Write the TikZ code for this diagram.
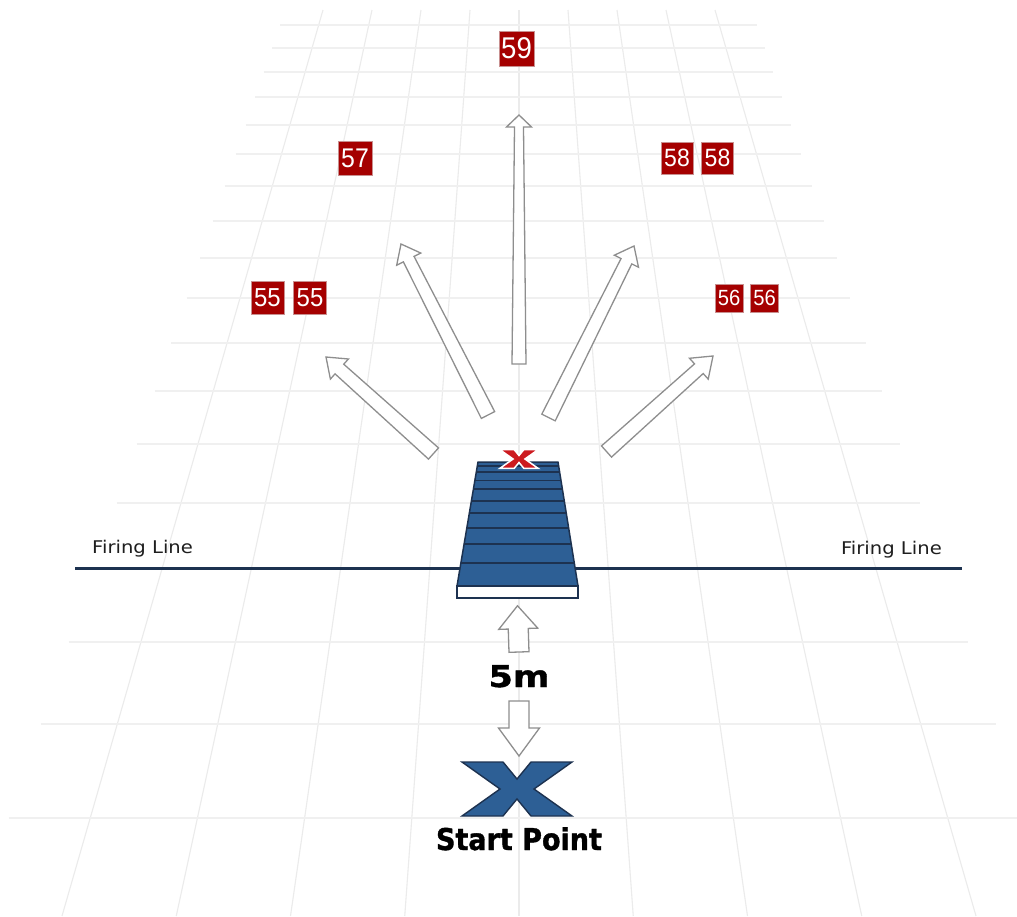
\documentclass[tikz,border=0pt]{standalone}
\usepackage{fontspec}
\setmainfont{Liberation Sans}
\newfontfamily\labelfont{DejaVu Sans}[FakeStretch=1.12]
\newfontfamily\numfont{Liberation Sans}[FakeStretch=0.92]
\newfontfamily\fivefont{DejaVu Sans}[FakeStretch=1.17, FakeBold=1.2]
\newfontfamily\startfont{DejaVu Sans}[FakeStretch=0.9, FakeBold=1.2]
\usetikzlibrary{calc}
\definecolor{gridc}{HTML}{EBEBEB}
\definecolor{gridhc}{HTML}{F0F0F0}
\definecolor{navy}{HTML}{1D3250}
\definecolor{platblue}{HTML}{2D5F95}
\definecolor{boxred}{HTML}{A50000}
\definecolor{boxedge}{HTML}{C89090}
\definecolor{xred}{HTML}{CC1A1F}
\definecolor{arrowgray}{HTML}{8E8E8E}
\definecolor{textgray}{HTML}{1E1E1E}
% tail, tip, tail half width, base half width, head half width, head length
\newcommand\hollowarrow[6]{%
  \coordinate (#1-hb) at ($(#2)!#6!(#1)$);
  \draw[blockarrow] ($(#1)!#3!90:(#2)$) -- ($(#1-hb)!#4!90:(#2)$)
    -- ($(#1-hb)!#5!90:(#2)$) -- (#2) -- ($(#1-hb)!#5!-90:(#2)$)
    -- ($(#1-hb)!#4!-90:(#2)$) -- ($(#1)!#3!-90:(#2)$) -- cycle;}
\tikzset{
  gridv/.style={draw=gridc, line width=1.1pt},
  gridh/.style={draw=gridhc, line width=1.8pt},
  firing/.style={draw=navy, line width=3pt},
  platform/.style={draw=navy, fill=platblue, line width=1.5pt, line join=round},
  stripe/.style={draw=navy, line width=1.7pt},
  basebox/.style={draw=navy, fill=white, line width=1.5pt, inner sep=0pt, minimum width=121pt, minimum height=12pt},
  blockarrow/.style={draw=arrowgray, fill=white, line width=1.3pt, line join=miter},
  numbox/.style={fill=boxred, draw=boxedge, line width=0.5pt, text=white, inner sep=0pt},
  fltext/.style={font=\labelfont\fontsize{17.5}{17.5}\selectfont, text=textgray, inner sep=0pt},
  xshape/.pic={\path[pic actions] (-55,-27) -- (-14,-27) -- (0,-10) -- (14,-27) -- (55,-27)
     -- (17,0) -- (55,27) -- (14,27) -- (0,10) -- (-14,27) -- (-55,27) -- (-17,0) -- cycle;}
}
\begin{document}
\begin{tikzpicture}[x=1pt,y=-1pt]
\useasboundingbox[fill=white] (0,0) rectangle (1017,916);
% grid
\foreach \k in {-4,...,4}
  \draw[gridv] ({519+49*\k},10) -- ({519+114.25*\k},916);
\foreach \y in {25,48,72,97,125,154,186,221,258,298,343,391,444,503,642,724,818}
  \draw[gridh] ({280-0.342*(\y-25)},\y) -- ({757+0.342*(\y-25)},\y);
% firing line
\coordinate (flL) at (75,568);
\coordinate (flR) at (962,568);
\draw[firing] (flL) -- (flR);
\node[fltext, anchor=base west] (fl1) at (92,553) {Firing Line};
\node[fltext, anchor=base east] (fl2) at (942,554) {Firing Line};
% platform
\coordinate (ptl) at (478,462);
\coordinate (ptr) at (558,462);
\coordinate (pbl) at (457,586);
\coordinate (pbr) at (578,586);
\draw[platform] (ptl) -- (ptr) -- (pbr) -- (pbl) -- cycle;
\foreach \t in {0.032,0.081,0.149,0.218,0.315,0.411,0.532,0.661,0.815}
  \draw[stripe] ($(ptl)!\t!(pbl)$) -- ($(ptr)!\t!(pbr)$);
\node[basebox] (base) at (517.5,592) {};
\pic[draw=white, fill=xred, line width=1.5pt, scale=0.35] at (519,459) {xshape};
% direction arrows
\draw[blockarrow] (512,364) -- (514.5,127) -- (506.5,127) -- (519,115) -- (531.5,127) -- (523.5,127) -- (526,364) -- cycle;
\coordinate (a2t) at (488,415);   \coordinate (a2h) at (401,244);
\coordinate (a3t) at (433.5,453.5); \coordinate (a3h) at (326,357);
\coordinate (a4t) at (548.5,417.5); \coordinate (a4h) at (634,246);
\coordinate (a5t) at (606.5,451.5); \coordinate (a5h) at (713,356);
\hollowarrow{a2t}{a2h}{7.5pt}{6pt}{13.5pt}{17pt}
\hollowarrow{a3t}{a3h}{7.5pt}{6.5pt}{13.5pt}{18pt}
\hollowarrow{a4t}{a4h}{7.5pt}{6pt}{13.5pt}{17pt}
\hollowarrow{a5t}{a5h}{7.5pt}{6.5pt}{14pt}{19pt}
% targets
\node[numbox, minimum size=35pt, font=\numfont\fontsize{30}{30}\selectfont] (n59) at (516.5,48.5) {59};
\node[numbox, minimum size=34pt, font=\numfont\fontsize{27}{27}\selectfont] (n57) at (355,158.5) {57};
\node[numbox, minimum size=32pt, font=\numfont\fontsize{25}{25}\selectfont] (n58a) at (677,158) {58};
\node[numbox, minimum size=32pt, font=\numfont\fontsize{25}{25}\selectfont] (n58b) at (717.5,158) {58};
\node[numbox, minimum size=33pt, font=\numfont\fontsize{26}{26}\selectfont] (n55a) at (267.5,298) {55};
\node[numbox, minimum size=33pt, font=\numfont\fontsize{26}{26}\selectfont] (n55b) at (310,298) {55};
\node[numbox, minimum size=28pt, font=\numfont\fontsize{22}{22}\selectfont] (n56a) at (729,298) {56};
\node[numbox, minimum size=28pt, font=\numfont\fontsize{22}{22}\selectfont] (n56b) at (764.5,298) {56};
% 5m
\node[anchor=base, inner sep=0pt, font=\fivefont\bfseries\fontsize{30}{30}\selectfont] (five) at (519,687) {5m};
\coordinate (upT) at (519,652);
\coordinate (upH) at ($(base.south)+(0,7)$);
\coordinate (dnT) at (519,701);
\coordinate (dnH) at (519,756);
\hollowarrow{upT}{upH}{10pt}{10pt}{19.5pt}{23pt}
\hollowarrow{dnT}{dnH}{10pt}{10pt}{20.5pt}{28pt}
% start point
\pic[draw=navy, fill=platblue, line width=1.4pt] at (517,789) {xshape};
\node[anchor=base, inner sep=0pt, font=\startfont\bfseries\fontsize{30}{30}\selectfont] (start) at (519,850) {Start Point};
\end{tikzpicture}
\end{document}
